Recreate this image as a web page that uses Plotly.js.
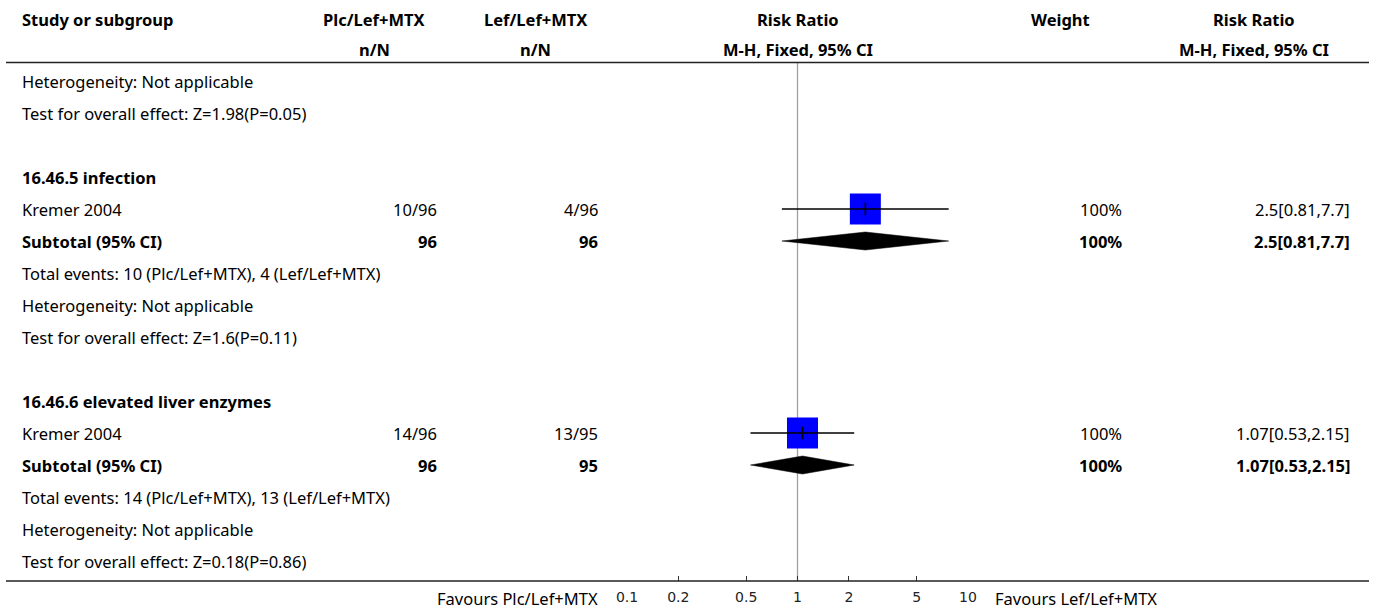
<!DOCTYPE html>
<html>
<head>
<meta charset="utf-8">
<script src="https://cdn.plot.ly/plotly-3.0.1.min.js"></script>
<style>
  html, body { margin: 0; padding: 0; background: #fff; }
  #plot { width: 1375px; height: 612px; }
</style>
</head>
<body>
<div id="plot"></div>
<script>
// Forest plot: leflunomide + MTX comparisons, adverse-event subgroups
const groupNames = ["16.46.5 infection", "16.46.6 elevated liver enzymes"];
const studyNames = ["Kremer 2004", "Kremer 2004"];
const plcEvents = [10, 14];
const plcTotal = [96, 96];
const lefEvents = [4, 13];
const lefTotal = [96, 95];
const riskRatio = [2.5, 1.07];
const ciLow = [0.81, 0.53];
const ciHigh = [7.7, 2.15];
const weightPct = [100, 100];
const overallZ = ["1.6", "0.18"];
const overallP = ["0.11", "0.86"];
const prevZ = "1.98";
const prevP = "0.05";
const treatA = "Plc/Lef+MTX";
const treatB = "Lef/Lef+MTX";
const tickVals = [0.1, 0.2, 0.5, 1, 2, 5, 10];
const tickText = ["0.1", "0.2", "0.5", "1", "2", "5", "10"];

// ---- layout helpers ----
const W = 1375, H = 612;
const ROW0 = 81, ROWH = 32;             // pixel centre of first row and row pitch
const rowOf = p => (p - ROW0) / ROWH;    // pixel -> row units
const px = p => p / W;
const FONT = "Noto Sans, sans-serif";
const FS = 16.5;
const INK = "#000000";

const colStudy = 20, colA = 439, colB = 600, colW = 1124, colRR = 1352;
const hdrA = 374, hdrB = 535, hdrPlot = 798, hdrW = 1060, hdrRR = 1254;

const ann = [];
function txt(text, xPix, row, align, bold) {
  ann.push({
    text: bold ? "<b>" + text + "</b>" : text,
    xref: "paper", yref: "y", x: px(xPix), y: row,
    xanchor: align, yanchor: "middle", showarrow: false,
    font: { family: FONT, size: FS, color: INK }
  });
}

// column headers
const h1 = rowOf(19), h2 = rowOf(49);
txt("Study or subgroup", colStudy, h1, "left", true);
txt(treatA, hdrA, h1, "center", true);
txt("n/N", hdrA, h2, "center", true);
txt(treatB, hdrB, h1, "center", true);
txt("n/N", hdrB, h2, "center", true);
txt("Risk Ratio", hdrPlot, h1, "center", true);
txt("M-H, Fixed, 95% CI", hdrPlot, h2, "center", true);
txt("Weight", hdrW, h1, "center", true);
txt("Risk Ratio", hdrRR, h1, "center", true);
txt("M-H, Fixed, 95% CI", hdrRR, h2, "center", true);

// tail of the preceding subgroup
txt("Heterogeneity: Not applicable", colStudy, 0, "left", false);
txt("Test for overall effect: Z=" + prevZ + "(P=" + prevP + ")", colStudy, 1, "left", false);

// subgroup blocks
const studyRows = [], subRows = [];
groupNames.forEach((g, i) => {
  const base = 3 + i * 7;
  const rs = base + 1, rsub = base + 2;
  studyRows.push(rs); subRows.push(rsub);
  const rrLabel = riskRatio[i] + "[" + ciLow[i] + "," + ciHigh[i] + "]";
  txt(g, colStudy, base, "left", true);
  txt(studyNames[i], colStudy, rs, "left", false);
  txt(plcEvents[i] + "/" + plcTotal[i], colA, rs, "right", false);
  txt(lefEvents[i] + "/" + lefTotal[i], colB, rs, "right", false);
  txt(weightPct[i] + "%", colW, rs, "right", false);
  txt(rrLabel, colRR, rs, "right", false);
  txt("Subtotal (95% CI)", colStudy, rsub, "left", true);
  txt(String(plcTotal[i]), colA, rsub, "right", true);
  txt(String(lefTotal[i]), colB, rsub, "right", true);
  txt(weightPct[i] + "%", colW, rsub, "right", true);
  txt(rrLabel, colRR, rsub, "right", true);
  txt("Total events: " + plcEvents[i] + " (" + treatA + "), " + lefEvents[i] + " (" + treatB + ")",
      colStudy, base + 3, "left", false);
  txt("Heterogeneity: Not applicable", colStudy, base + 4, "left", false);
  txt("Test for overall effect: Z=" + overallZ[i] + "(P=" + overallP[i] + ")", colStudy, base + 5, "left", false);
});

// favours labels under the axis
const axisRow = rowOf(581), favRow = rowOf(598);
txt("Favours " + treatA, colB, favRow, "right", false);
txt("Favours " + treatB, 993, favRow, "left", false);

// ---- traces ----
const traces = [];

// line of no effect
traces.push({
  x: [1, 1], y: [rowOf(63), axisRow], mode: "lines",
  line: { color: "#a0a0a0", width: 1.3 }, hoverinfo: "skip", showlegend: false
});

// study squares
traces.push({
  x: riskRatio, y: studyRows, mode: "markers",
  marker: { symbol: "square", size: 31, color: "#0000ff", line: { width: 0 } },
  hoverinfo: "skip", showlegend: false
});

// confidence intervals on top of the squares
riskRatio.forEach((v, i) => {
  traces.push({
    x: [ciLow[i], ciHigh[i]], y: [studyRows[i], studyRows[i]], mode: "lines",
    line: { color: "#000", width: 1.4 }, hoverinfo: "skip", showlegend: false
  });
});

// point-estimate tick
traces.push({
  x: riskRatio, y: studyRows, mode: "markers",
  marker: { symbol: "line-ns", size: 9, line: { color: "#000", width: 1.6 } },
  hoverinfo: "skip", showlegend: false
});

// subtotal diamonds
const dh = 9 / ROWH;
riskRatio.forEach((v, i) => {
  const r = subRows[i];
  traces.push({
    x: [ciLow[i], v, ciHigh[i], v, ciLow[i]],
    y: [r, r - dh, r, r + dh, r],
    mode: "lines", fill: "toself", fillcolor: "#000",
    line: { color: "#000", width: 0.5 }, hoverinfo: "skip", showlegend: false
  });
});

// ---- horizontal rules ----
const shapes = [
  { type: "line", xref: "paper", yref: "y", x0: px(6), x1: px(1369), y0: rowOf(62.5), y1: rowOf(62.5),
    line: { color: "#222", width: 1.6 } },
  { type: "line", xref: "paper", yref: "y", x0: px(6), x1: px(1369), y0: axisRow, y1: axisRow,
    line: { color: "#222", width: 1.6 } }
];

const layout = {
  width: W, height: H,
  margin: { l: 0, r: 0, t: 0, b: 0, pad: 0 },
  paper_bgcolor: "#fff", plot_bgcolor: "rgba(0,0,0,0)",
  showlegend: false,
  xaxis: {
    type: "log", range: [-1, 1], domain: [px(627), px(968)],
    anchor: "free", position: 1 - 581 / H,
    tickmode: "array", tickvals: tickVals, ticktext: tickText,
    ticks: "inside", ticklen: 5, tickwidth: 1, tickcolor: "#333",
    ticklabelstandoff: 6,
    showline: false, showgrid: false, zeroline: false,
    tickfont: { family: "DejaVu Sans, sans-serif", size: 14, color: "#222" },
    fixedrange: true
  },
  yaxis: {
    range: [rowOf(H), rowOf(0)], domain: [0, 1],
    visible: false, showgrid: false, zeroline: false, fixedrange: true
  },
  annotations: ann,
  shapes: shapes
};

Plotly.newPlot("plot", traces, layout, { staticPlot: true, displayModeBar: false });
</script>
</body>
</html>
